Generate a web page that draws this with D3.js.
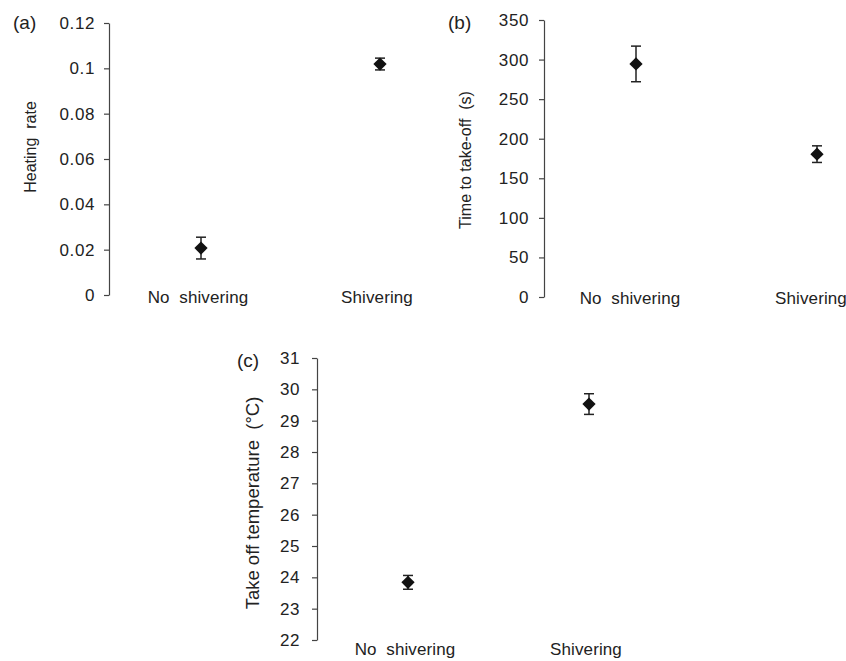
<!DOCTYPE html>
<html>
<head>
<meta charset="utf-8">
<script src="https://cdn.jsdelivr.net/npm/d3@7"></script>
<style>
  body { margin: 0; background: #fff; }
  text { font-family: "Liberation Sans", Arial, sans-serif; fill: #222; }
</style>
</head>
<body>
<svg id="canvas" width="846" height="661"></svg>
<script>
let categories = ["No shivering", "Shivering"];

let heatingMean = [0.0207, 0.1019];
let heatingErr = [0.0048, 0.0026];
let heatingTicks = [0, 0.02, 0.04, 0.06, 0.08, 0.1, 0.12];
let heatingLabels = ["0", "0.02", "0.04", "0.06", "0.08", "0.1", "0.12"];

let takeoffMean = [294.5, 180.5];
let takeoffErr = [22.5, 10.5];
let takeoffTicks = [0, 50, 100, 150, 200, 250, 300, 350];

let tempMean = [23.84, 29.53];
let tempErr = [0.22, 0.33];
let tempTicks = [22, 23, 24, 25, 26, 27, 28, 29, 30, 31];

let canvas = d3.select("#canvas");

let panels = [
  {
    tag: "(a)", tagX: 13, tagY: 29,
    title: "Heating  rate", titleX: 36, titleY: 147, titleSize: 16,
    axisX: 109, xFirst: 201, xLast: 380, catY: 303, catShift: -3,
    domain: [0, 0.12], yBottom: 295, yTop: 23,
    ticks: heatingTicks, labels: heatingLabels, pad: 9,
    mean: heatingMean, err: heatingErr
  },
  {
    tag: "(b)", tagX: 448, tagY: 29,
    title: "Time to take-off  (s)", titleX: 471, titleY: 160, titleSize: 16,
    axisX: 544, xFirst: 636, xLast: 817, catY: 304, catShift: -6,
    domain: [0, 350], yBottom: 297, yTop: 20,
    ticks: takeoffTicks, labels: takeoffTicks.map(String), pad: 10,
    mean: takeoffMean, err: takeoffErr
  },
  {
    tag: "(c)", tagX: 237, tagY: 367,
    title: "Take off temperature  (°C)", titleX: 259, titleY: 503, titleSize: 18.5,
    axisX: 317, xFirst: 408, xLast: 589, catY: 655, catShift: -3,
    domain: [22, 31], yBottom: 640, yTop: 358,
    ticks: tempTicks, labels: tempTicks.map(String), pad: 12,
    mean: tempMean, err: tempErr
  }
];

let drawPanel = (p) => {
  let g = canvas.append("g");

  let y = d3.scaleLinear().domain(p.domain).range([p.yBottom, p.yTop]);
  let x = d3.scalePoint().domain(categories).range([p.xFirst, p.xLast]);

  let axis = d3.axisLeft(y)
    .tickValues(p.ticks)
    .tickFormat((d, i) => p.labels[i])
    .tickSize(5)
    .tickSizeOuter(0)
    .tickPadding(p.pad);

  let ax = g.append("g")
    .attr("transform", "translate(" + p.axisX + ",0)")
    .call(axis);
  ax.select(".domain").attr("stroke", "#444").attr("stroke-width", 1.2);
  ax.selectAll(".tick line").attr("stroke", "#444").attr("stroke-width", 1.2);
  ax.selectAll(".tick text")
    .style("font-family", "'Liberation Sans', Arial, sans-serif")
    .style("font-size", "17px")
    .style("letter-spacing", "0.6px")
    .attr("fill", "#222");

  // category labels under the plot
  g.selectAll(".cat")
    .data(categories)
    .enter()
    .append("text")
    .attr("class", "cat")
    .attr("x", (d) => x(d) + p.catShift)
    .attr("y", p.catY)
    .attr("text-anchor", "middle")
    .style("font-size", "17px")
    .style("letter-spacing", "0.1px")
    .style("white-space", "pre")
    .text((d) => d.replace(" ", "  "));

  // y title
  g.append("text")
    .attr("transform", "translate(" + p.titleX + "," + p.titleY + ") rotate(-90)")
    .attr("text-anchor", "middle")
    .style("font-size", p.titleSize + "px")
    .style("white-space", "pre")
    .text(p.title);

  // panel tag
  g.append("text")
    .attr("x", p.tagX)
    .attr("y", p.tagY)
    .style("font-size", "19px")
    .text(p.tag);

  let rows = categories.map((c, i) => ({ cat: c, m: p.mean[i], e: p.err[i] }));

  // error bars
  let bars = g.selectAll(".err")
    .data(rows)
    .enter()
    .append("g")
    .attr("class", "err")
    .attr("stroke", "#222")
    .attr("stroke-width", 1.5);
  bars.append("line")
    .attr("x1", (d) => x(d.cat)).attr("x2", (d) => x(d.cat))
    .attr("y1", (d) => y(d.m + d.e)).attr("y2", (d) => y(d.m - d.e));
  bars.append("line")
    .attr("x1", (d) => x(d.cat) - 5).attr("x2", (d) => x(d.cat) + 5)
    .attr("y1", (d) => y(d.m + d.e)).attr("y2", (d) => y(d.m + d.e));
  bars.append("line")
    .attr("x1", (d) => x(d.cat) - 5).attr("x2", (d) => x(d.cat) + 5)
    .attr("y1", (d) => y(d.m - d.e)).attr("y2", (d) => y(d.m - d.e));

  // diamond markers
  g.selectAll(".pt")
    .data(rows)
    .enter()
    .append("path")
    .attr("class", "pt")
    .attr("d", d3.symbol().type(d3.symbolSquare).size(88))
    .attr("transform", (d) => "translate(" + x(d.cat) + "," + y(d.m) + ") rotate(45)")
    .attr("fill", "#111");
};

panels.forEach(drawPanel);
</script>
</body>
</html>
